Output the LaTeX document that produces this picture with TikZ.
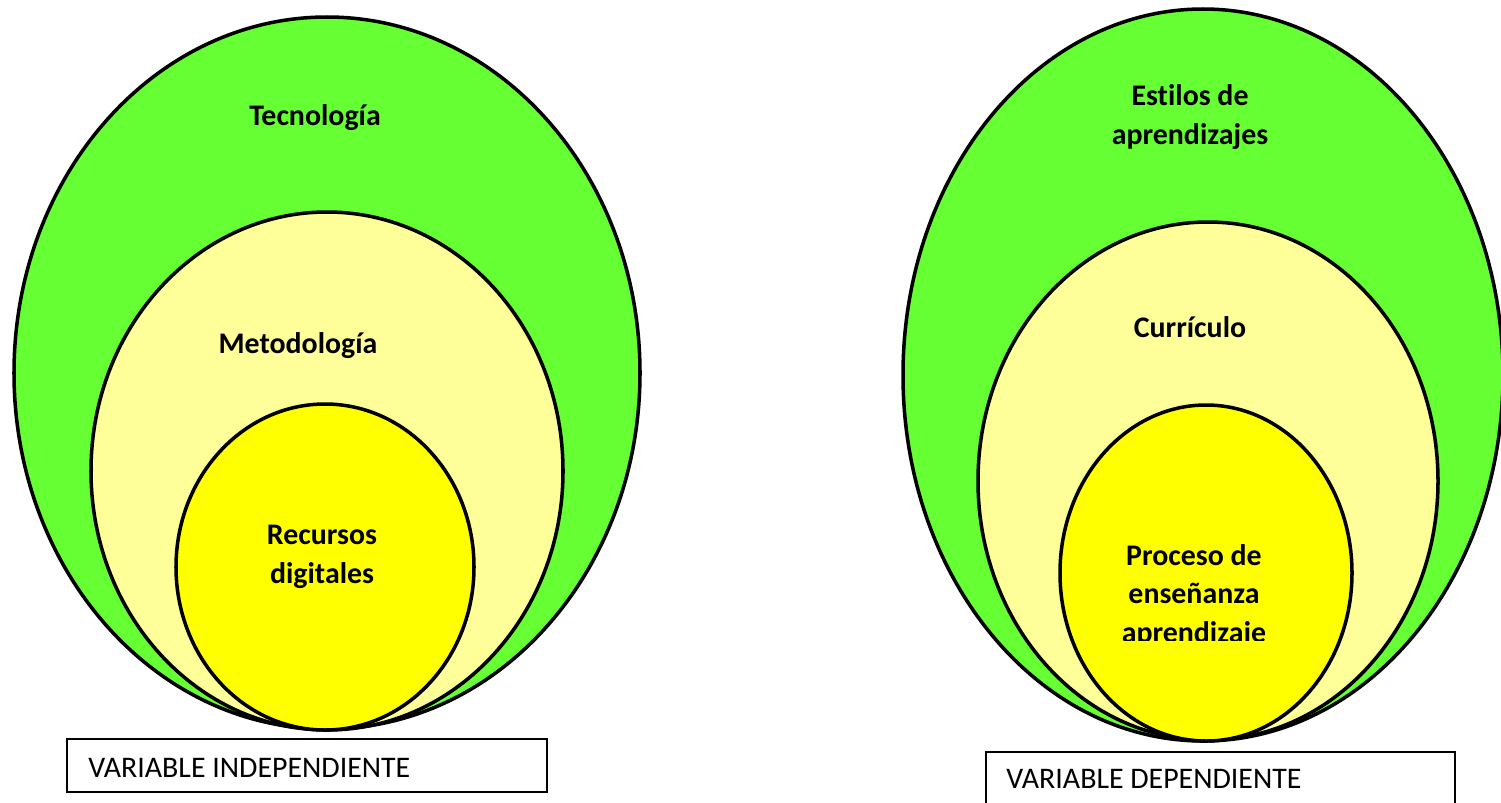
\documentclass[tikz,border=0pt]{standalone}
\usepackage{fontspec}
\setmainfont{Carlito}[Ligatures=NoCommon]
\usetikzlibrary{positioning}
\definecolor{OuterGreen}{HTML}{66FF33}
\definecolor{PaleYellow}{HTML}{FFFF99}
\definecolor{BrightYellow}{HTML}{FFFF00}

\tikzset{
  ring/.style={draw=black, line width=2pt},
  lbl/.style={font=\fontsize{17}{22}\selectfont\bfseries, align=center, inner sep=0pt},
  varbox/.style={draw=black, line width=0.6pt},
  vartext/.style={font=\fontsize{17}{20}\selectfont, anchor=base west, inner sep=0pt}
}

\begin{document}
\begin{tikzpicture}[x=0.02cm, y=-0.02cm]
    \useasboundingbox (0,0) rectangle (1501,802);

    % Independent variable (left)
    \filldraw[ring, fill=OuterGreen] (327,373) ellipse [x radius=313, y radius=356];
    \filldraw[ring, fill=PaleYellow] (327,471) ellipse [x radius=236, y radius=259];
    \filldraw[ring, fill=BrightYellow] (325,567) ellipse [x radius=149, y radius=163];

    \node[lbl] (tecno) at (315,118) {Tecnología};
    \node[lbl] (metodo) at (298,346) {Metodología};
    \node[lbl] (recursos) at (322,557) {Recursos\\digitales};

    \draw[varbox] (67,739) rectangle (547,792);
    \node[vartext] (indep) at (88,777) {VARIABLE INDEPENDIENTE};

    % Dependent variable (right)
    \filldraw[ring, fill=OuterGreen] (1203,375) ellipse [x radius=300, y radius=366];
    \filldraw[ring, fill=PaleYellow] (1208,481) ellipse [x radius=230, y radius=259];
    \filldraw[ring, fill=BrightYellow] (1206,573) ellipse [x radius=146, y radius=168];

    \node[lbl] (estilos) at (1190,117) {Estilos de\\aprendizajes};
    \node[lbl] (curriculo) at (1190,327) {Currículo};
    \begin{scope}
        \clip (1060,520) rectangle (1352,640);
        \node[lbl, anchor=north] (proceso) at (1194,544) {Proceso de\\enseñanza\\aprendizaje};
    \end{scope}

    \draw[varbox] (986,752) rectangle (1455,815);
    \node[vartext] (dep) at (1006,788) {VARIABLE DEPENDIENTE};
\end{tikzpicture}
\end{document}
